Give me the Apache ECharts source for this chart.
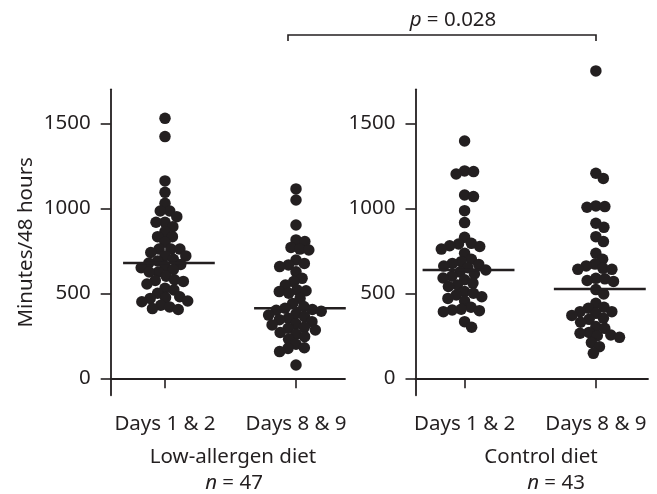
<!DOCTYPE html>
<html><head><meta charset="utf-8">
<script src="https://cdn.jsdelivr.net/npm/echarts@6/dist/echarts.min.js"></script>
<style>html,body{margin:0;padding:0;background:#fff}#c{width:657px;height:494px}</style>
</head><body><div id="c"></div>
<script>
// ---- data ----
const groupLabels = ['Days 1 & 2', 'Days 8 & 9'];
const yTicks = [0, 500, 1000, 1500];
const panelNames = ['Low-allergen diet', 'Control diet'];
const panelN = [47, 43];
const pValue = 'p = 0.028';

const lowAllergenDays12 = [1529, 1422, 1161, 1094, 1029, 984, 984, 951, 918, 918, 892, 863, 833, 833, 800, 760, 760, 760, 740, 720, 720, 700, 690,
  678,
  670, 660, 650, 640, 625, 625, 600, 580, 575, 570, 555, 530, 520, 500, 480, 475, 470, 455, 450, 430, 420, 410, 405];
const lowAllergenDays89 = [1114, 1049, 902, 814, 804, 770, 760, 755, 696, 676, 667, 657, 627, 588, 569, 549, 520, 515, 510, 500, 470, 440, 422,
  412,
  405, 400, 395, 380, 372, 363, 353, 345, 333, 320, 314, 300, 294, 284, 270, 260, 245, 230, 200, 180, 176, 157, 78];
const controlDays12 = [1396, 1220, 1216, 1202, 1078, 1069, 986, 916, 829, 794, 790, 780, 775, 760, 735, 700, 686, 676, 670, 660, 650,
  637,
  625, 614, 600, 590, 580, 560, 549, 540, 510, 500, 490, 480, 470, 455, 418, 406, 402, 398, 392, 333, 300];
const controlDays89 = [1808, 1206, 1176, 1014, 1010, 1006, 912, 888, 833, 804, 735, 700, 672, 661, 647, 641, 641, 588, 585, 575, 570,
  522,
  496, 441, 418, 412, 392, 392, 382, 370, 353, 347, 330, 304, 294, 270, 265, 255, 250, 241, 210, 186, 147];
const lowAllergenMedians = [678, 412];
const controlMedians = [637, 525];

// ---- layout ----
const INK = '#231f20';
const FONT = 'Noto Sans';
const FS = 20.5;
const Y_MIN = -100, Y_MAX = 1700;
const grids = [
  {left: 110.7, top: 89.3, width: 234.3, height: 306, xMin: 0.5855, xMax: 2.374},
  {left: 415.5, top: 89.3, width: 232.5, height: 306, xMin: 0.626, xMax: 2.397}
];
const DOT = 11.5, SEP = 9.0;

function swarm(values, pxPerY) {
  const order = values.map((v, i) => i).sort((a, b) => values[b] - values[a]);
  const placed = [], out = new Array(values.length);
  for (const i of order) {
    const y = values[i] * pxPerY;
    const cands = [0];
    for (const p of placed) {
      const dy = Math.abs(p.y - y);
      if (dy < SEP) { const dx = Math.sqrt(SEP * SEP - dy * dy); cands.push(p.x + dx, p.x - dx); }
    }
    cands.sort((a, b) => Math.abs(a) - Math.abs(b));
    let best = 0;
    for (const c of cands) {
      if (placed.every(p => (p.x - c) ** 2 + (p.y - y) ** 2 >= SEP * SEP - 1e-6)) { best = c; break; }
    }
    placed.push({x: best, y}); out[i] = best;
  }
  return out;
}

const panels = [[lowAllergenDays12, lowAllergenDays89, lowAllergenMedians], [controlDays12, controlDays89, controlMedians]];
const series = [];
panels.forEach((pn, gi) => {
  const g = grids[gi];
  const pxPerX = g.width / (g.xMax - g.xMin);
  const pxPerY = g.height / (Y_MAX - Y_MIN);
  [pn[0], pn[1]].forEach((vals, k) => {
    const offs = swarm(vals, pxPerY);
    series.push({
      type: 'scatter', xAxisIndex: gi, yAxisIndex: gi, symbolSize: DOT, clip: false,
      itemStyle: {color: INK, opacity: 1}, z: 3,
      data: vals.map((v, i) => [k + 1 + offs[i] / pxPerX, v])
    });
    const m = pn[2][k];
    series.push({
      type: 'line', xAxisIndex: gi, yAxisIndex: gi, symbol: 'none', z: 4, silent: true,
      lineStyle: {color: INK, width: 2.6},
      data: [[k + 1 + 0.03 - 0.35, m], [k + 1 + 0.03 + 0.35, m]]
    });
  });
});

const axisLineStyle = {show: true, lineStyle: {color: INK, width: 1.8}};
const xAxis = grids.map((g, i) => ({
  type: 'value', gridIndex: i, min: g.xMin, max: g.xMax,
  axisLine: axisLineStyle, splitLine: {show: false},
  axisTick: {show: true, length: 10, customValues: [1, 2], lineStyle: {color: INK, width: 1.6}},
  axisLabel: {customValues: [1, 2], margin: 18, color: INK, fontFamily: FONT, fontSize: FS,
    formatter: v => groupLabels[Math.round(v) - 1]}
}));
const yAxis = grids.map((g, i) => ({
  type: 'value', gridIndex: i, min: Y_MIN, max: Y_MAX,
  axisLine: axisLineStyle, splitLine: {show: false},
  axisTick: {show: true, length: 10, customValues: yTicks, lineStyle: {color: INK, width: 1.6}},
  axisLabel: {customValues: yTicks, margin: 20, color: INK, fontFamily: FONT, fontSize: FS,
    formatter: v => String(v)},
  name: i === 0 ? 'Minutes/48 hours' : '', nameLocation: 'middle', nameGap: 74,
  nameTextStyle: {color: INK, fontFamily: FONT, fontSize: FS}
}));

const txt = (x, y, rich) => ({type: 'text', x, y, style: {
  text: rich, align: 'center', verticalAlign: 'middle', fill: INK, font: FS + 'px "' + FONT + '"',
  rich: {i: {fontStyle: 'italic', fontFamily: FONT, fontSize: FS, fill: INK}}}});

const chart = echarts.init(document.getElementById('c'), null, {renderer: 'canvas'});
chart.setOption({
  animation: false,
  backgroundColor: '#fff',
  grid: grids.map(g => ({left: g.left, top: g.top, width: g.width, height: g.height, containLabel: false})),
  xAxis, yAxis, series,
  graphic: [
    {type: 'polyline', shape: {points: [[288, 41], [288, 35], [596, 35], [596, 41]]},
      style: {stroke: INK, lineWidth: 1.6, fill: null}},
    txt(453, 20, '{i|p}' + pValue.slice(1)),
    txt(233, 457, panelNames[0]),
    txt(234, 483, '{i|n} = ' + panelN[0]),
    txt(541, 457, panelNames[1]),
    txt(556, 483, '{i|n} = ' + panelN[1])
  ]
});
</script></body></html>
